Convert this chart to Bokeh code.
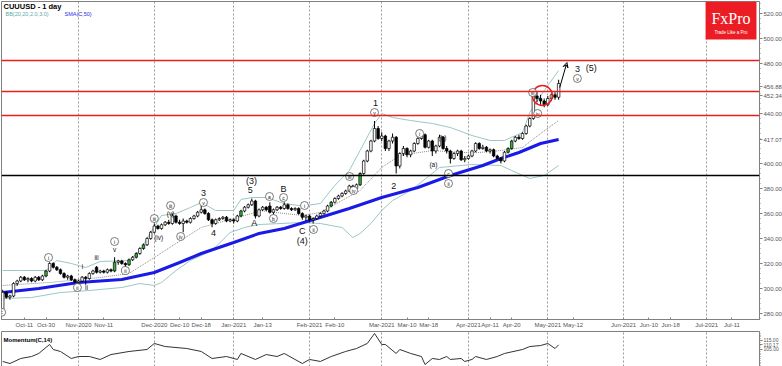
import numpy as np
from bokeh.plotting import figure
from bokeh.models import (ColumnDataSource, FixedTicker, Range1d, Label, Span,
                          Arrow, VeeHead, PrintfTickFormatter)
from bokeh.layouts import column
from bokeh.embed import file_html
from bokeh.resources import INLINE
from bokeh.core.properties import value

# ---------------- data ----------------
# bar index: 0 = 2020-11-02 ; first candle is bar -21
first_bar = -21
opens = [282, 297, 293, 294, 304, 306, 309, 307, 308, 306, 309, 307, 310, 314, 320, 317, 315, 312, 309, 310,
         307, 305, 306, 309, 308, 312, 317, 313, 314, 313, 315, 314, 321, 322, 320, 319, 323, 325, 328, 332,
         335, 340, 345, 350, 348, 351, 353, 352, 358, 353, 352, 354, 353, 356, 358, 361, 363, 360, 355, 352,
         355, 356, 357, 354, 355, 354, 358, 362, 365, 367, 370, 358, 363, 365, 366, 361, 363, 365, 364, 367,
         364, 363, 364, 360, 357, 358, 355, 356, 358, 360, 362, 366, 369, 372, 374, 376, 378, 382, 380, 383,
         392, 402, 410, 418, 428, 420, 422, 412, 418, 421, 398, 408, 412, 407, 410, 416, 420, 423, 413, 418,
         410, 414, 421, 412, 410, 404, 408, 410, 403, 404, 406, 410, 416, 412, 413, 410, 411, 406, 404, 402,
         409, 412, 418, 421, 420, 424, 430, 436, 454, 452, 450, 447, 452, 455, 453]
highs = [299, 298, 295, 305, 307, 310, 310, 309, 309, 310, 310, 311, 315, 321, 321, 318, 316, 313, 311, 311,
         308, 307, 310, 310, 313, 315, 318, 315, 315, 316, 316, 325, 323, 323, 321, 324, 326, 329, 333, 336,
         341, 346, 352, 351, 352, 354, 355, 360, 359, 355, 356, 355, 357, 359, 362, 366, 364, 361, 356, 356,
         357, 358, 358, 356, 356, 359, 363, 366, 368, 372, 371, 364, 366, 366, 369, 364, 366, 366, 369, 368,
         365, 365, 365, 361, 359, 359, 357, 359, 361, 363, 367, 370, 373, 375, 377, 379, 383, 383, 384, 393,
         403, 411, 419, 434, 430, 425, 423, 419, 424, 422, 409, 414, 413, 411, 417, 421, 427, 424, 419, 419,
         415, 423, 422, 414, 411, 409, 411, 411, 406, 407, 411, 417, 417, 415, 414, 412, 412, 407, 405, 410,
         413, 419, 422, 423, 425, 431, 437, 458, 458, 455, 452, 454, 456, 457, 467]
lows = [279, 292, 291, 293, 302, 305, 306, 305, 305, 305, 306, 306, 309, 313, 316, 314, 311, 308, 307, 306,
        304, 303, 305, 303, 307, 311, 312, 312, 312, 312, 313, 313, 319, 319, 316, 318, 322, 324, 327, 331,
        334, 339, 344, 347, 347, 350, 351, 351, 352, 351, 345, 352, 352, 355, 357, 360, 359, 354, 349, 351,
        354, 355, 353, 353, 352, 353, 357, 361, 364, 366, 356, 357, 362, 362, 360, 359, 362, 363, 363, 363,
        362, 362, 359, 355, 354, 353, 352, 355, 357, 359, 361, 365, 368, 371, 373, 375, 377, 377, 379, 382,
        391, 401, 409, 417, 419, 418, 410, 410, 416, 392, 396, 406, 405, 405, 409, 415, 419, 412, 412, 406,
        408, 413, 411, 408, 400, 403, 406, 402, 401, 403, 405, 409, 411, 411, 409, 408, 405, 403, 400, 401,
        408, 411, 417, 419, 419, 423, 429, 435, 449, 447, 445, 446, 450, 451, 451]
closes = [297, 293, 294, 304, 306, 309, 307, 308, 306, 309, 307, 310, 314, 320, 317, 315, 312, 309, 310, 307,
          305, 306, 309, 308, 312, 314, 313, 314, 313, 315, 314, 321, 322, 320, 319, 323, 325, 328, 332, 335,
          340, 345, 350, 348, 351, 353, 352, 358, 353, 352, 354, 353, 356, 358, 361, 363, 360, 355, 352, 355,
          356, 357, 354, 355, 354, 358, 362, 365, 367, 370, 358, 363, 365, 363, 361, 363, 365, 364, 367, 364,
          363, 364, 360, 357, 358, 355, 356, 358, 360, 362, 366, 369, 372, 374, 376, 378, 382, 380, 383, 392,
          402, 410, 418, 428, 420, 422, 412, 418, 421, 398, 408, 412, 407, 410, 416, 420, 423, 413, 418, 410,
          414, 421, 412, 410, 404, 408, 410, 403, 404, 406, 410, 416, 412, 413, 410, 411, 406, 404, 402, 409,
          412, 418, 421, 420, 424, 430, 436, 454, 452, 450, 447, 452, 455, 453, 464]
green_candles = [12, 31, 35, 37, 39, 66, 91, 99, 140, 141]   # candle numbers drawn green

# Bollinger band (20, 2) and SMA(50), read at candle numbers
bbu_n = [0, 5, 12, 15, 19, 23, 27, 35, 38, 41, 44, 48, 52, 55, 59, 64, 66, 69, 73, 78, 82, 84, 88, 92, 96, 99,
         103, 105, 108, 113, 119, 124, 130, 135, 139, 144, 146, 150, 154]
bbu_v = [314.4, 314.4, 314.4, 322.4, 320, 316.8, 321.6, 322.4, 330.4, 344.8, 358.4, 360, 364.8, 368.8, 362.4,
         362.4, 371.2, 372.8, 372.8, 368, 366.4, 366.4, 368, 382.4, 394.4, 410.4, 432, 440, 436.8, 434.4, 432,
         428.8, 422.4, 418.4, 418.4, 424.8, 440.8, 458.4, 474.4]
bbm_n = [0, 13, 27, 35, 42, 48, 55, 64, 69, 71, 83, 88, 94, 99, 105, 110, 119, 127, 132, 138, 144, 149, 154]
bbm_v = [302.4, 304.8, 308.8, 312, 324.8, 336, 348.8, 356, 360, 362.4, 358.4, 360.8, 370.4, 378.4, 396.8,
         406.4, 410.4, 408.8, 408.8, 410.4, 412.8, 424, 434.4]
bbl_n = [0, 8, 16, 24, 33, 38, 42, 44, 48, 52, 58, 63, 67, 71, 83, 88, 94, 97, 99, 102, 105, 108, 113, 119,
         121, 130, 138, 141, 146, 150, 154]
bbl_v = [292, 292.8, 296.8, 298.4, 300.8, 304, 302.4, 304.8, 314.4, 322.4, 330.4, 344.8, 348.8, 351.2, 352.8,
         352, 348.8, 340.8, 344, 352, 362.4, 370.4, 378.4, 392, 396.8, 399.2, 398.4, 394.4, 388, 390.4, 398.4]
sma_n = [0, 10, 21, 33, 42, 49, 55, 64, 71, 78, 87, 96, 105, 115, 124, 133, 138, 143, 149, 154]
sma_v = [296.8, 300, 304.8, 307.2, 312.8, 320.8, 328, 336.8, 344, 348, 356, 364, 372.8, 380.8, 390.4, 398.4,
         404, 408.8, 416, 419.2]

# Momentum(C,14)
mom_n = [0, 2, 5, 8, 10, 13, 14, 16, 19, 21, 24, 27, 30, 35, 40, 42, 45, 51, 55, 58, 62, 65, 66, 70, 73, 76,
         78, 83, 85, 88, 91, 95, 98, 101, 103, 105, 106, 109, 110, 113, 116, 117, 119, 121, 123, 124, 127, 128,
         130, 131, 134, 137, 139, 144, 146, 149, 151, 153, 154]
mom_v = [91.7, 89.4, 95, 97.2, 100.6, 110.6, 105, 102.8, 95, 97.2, 97.2, 93.9, 99.4, 102.8, 105, 111.7, 108.3,
         106.1, 102.8, 95, 97.2, 93.9, 100.6, 93.9, 99.4, 97.2, 100.6, 89.4, 93.9, 91.7, 97.2, 102.8, 106.1,
         111.7, 122.8, 110.6, 110.6, 100.6, 105, 100.6, 97.2, 88.3, 95, 93.9, 97.2, 93.9, 95, 91.7, 93.9, 97.2,
         93.9, 97.2, 100.6, 105, 108.3, 109.4, 111.7, 106.1, 110.17]

# axis ticks (bar index) and labels
tick_pos = [-15, -9, 0, 7, 21, 28, 34, 43, 51, 64, 71, 84, 91, 97, 108, 114, 120, 130, 137, 151, 158, 164, 174, 181]
tick_lab = ["Oct-11", "Oct-30", "Nov-2020", "Nov-11", "Dec-2020", "Dec-10", "Dec-18", "Jan-2021", "Jan-13",
            "Feb-2021", "Feb-10", "Mar-2021", "Mar-10", "Mar-18", "Apr-2021", "Apr-11", "Apr-20", "May-2021",
            "May-12", "Jun-2021", "Jun-10", "Jun-18", "Jul-2021", "Jul-11"]
month_pos = [0, 21, 43, 64, 84, 108, 130, 151, 174]
price_ticks = [280, 300, 320, 340, 360, 380, 400, 440, 480, 500, 520]   # 420/460 hidden by value boxes

red_levels = [482.4, 457.6, 438.4]
black_levels = [390.4]

# value boxes on the price axis (position, text)
box_vals = [461.6, 454.4, 419.2]
box_text = ["456.88", "452.34", "417.07"]
mom_ticks = [105, 110.17, 115]

# Elliott wave labels: candle number, price, text, kind (c=circled, b=big, s=small)
wave_n = [-0.3, 12.7, 20.7, 23.2, 22.1, 26, 31, 31, 34, 42, 43.2, 46.5, 46.5, 49.3, 55.6, 55.6, 58.4, 68.6,
          68.9, 69.7, 73.9, 75, 77.8, 77.8, 83.6, 83, 83, 86.1, 96.1, 97.2, 103, 103.3, 108.3, 115.5, 119.3,
          121.8, 123.5, 123.5, 146.8, 148.2, 159.2, 159.2, 163]
wave_p = [281, 324.8, 300.8, 300.8, 317.6, 324.8, 331.2, 337.6, 314.4, 356, 340.8, 366.4, 360, 341.6, 376.8,
          368.8, 344.8, 379.2, 386.4, 352.8, 373.6, 356, 380, 372.8, 366.4, 346.4, 338.4, 347.2, 389.6, 378.4,
          440.8, 448.8, 382.4, 424, 399.2, 420.8, 392, 384, 456.8, 440, 476, 468, 476.8]
wave_t = ["c", "i", "ii", "ii", "i", "iii", "v", "i", "ii", "iii", "(iv)", "iii", "(v)", "iv", "3", "v", "4",
          "5", "(3)", "A", "a", "b", "B", "c", "i", "C", "(4)", "ii", "iii", "iv", "v", "1", "2", "i", "(a)",
          "(b)", "c", "ii", "iii", "iv", "3", "v", "(5)"]
wave_k = ["c", "c", "c", "s", "s", "s", "s", "c", "c", "c", "s", "c", "s", "c", "b", "c", "b", "b", "b", "b",
          "c", "c", "b", "c", "c", "b", "b", "c", "c", "c", "c", "b", "b", "c", "s", "s", "c", "c", "c", "c",
          "b", "c", "b"]

# ---------------- figures ----------------
FONT = value("Liberation Sans")
o = np.array(opens, float); h = np.array(highs, float)
l = np.array(lows, float); c = np.array(closes, float)
xb = np.arange(len(opens)) + first_bar
fill = np.where(c >= o, "white", "black").astype(object)
for g in green_candles:
    fill[g] = "#36b336"

FW = 758
xr = Range1d(-21.33, 188.64)
p = figure(frame_width=FW, frame_height=318, x_range=xr, y_range=Range1d(275.2, 529.6),
           output_backend="svg", toolbar_location=None, y_axis_location="right",
           min_border_left=1, min_border_right=23, min_border_top=1, min_border_bottom=0,
           background_fill_color="white", border_fill_color="white")
p.outline_line_color = "#808080"
p.ygrid.grid_line_color = None
p.xgrid.ticker = FixedTicker(ticks=month_pos)
p.xgrid.grid_line_color = "#9a9a9a"
p.xgrid.grid_line_dash = "2 2"
p.xgrid.grid_line_width = 1

ya = p.yaxis[0]
ya.ticker = FixedTicker(ticks=sorted(price_ticks + box_vals), minor_ticks=list(range(276, 530, 4)))
ya.formatter = PrintfTickFormatter(format="%.2f")
ya.major_label_overrides = {v: t for v, t in zip(box_vals, box_text)}
ya.major_label_text_font_size = "6px"
ya.major_label_text_font = "Liberation Sans"
ya.major_label_text_color = "#555555"
ya.major_tick_out = 3; ya.major_tick_in = 0
ya.minor_tick_out = 1; ya.minor_tick_in = 0
ya.major_label_standoff = 1
ya.axis_line_color = "#808080"; ya.major_tick_line_color = "#808080"; ya.minor_tick_line_color = "#808080"

xa = p.xaxis[0]
xa.ticker = FixedTicker(ticks=tick_pos)
xa.major_label_overrides = {t: s for t, s in zip(tick_pos, tick_lab)}
xa.major_label_text_font_size = "6px"
xa.major_label_text_font = "Liberation Sans"
xa.major_label_text_color = "#555555"
xa.major_tick_out = 0; xa.major_tick_in = 2
xa.minor_tick_line_color = None
xa.major_label_standoff = 2
xa.axis_line_color = "#808080"; xa.major_tick_line_color = "#808080"

# horizontal levels
for lv in red_levels:
    p.add_layout(Span(location=lv, dimension="width", line_color="#e8201c", line_width=1.5))
for lv in black_levels:
    p.add_layout(Span(location=lv, dimension="width", line_color="black", line_width=1.5))

# bands and SMA
p.line(np.array(bbu_n) + first_bar, bbu_v, line_color="#9cc6c6", line_width=1)
p.line(np.array(bbl_n) + first_bar, bbl_v, line_color="#9cc6c6", line_width=1)
p.line(np.array(bbm_n) + first_bar, bbm_v, line_color="#8a8a8a", line_width=1, line_dash="1 1")
p.line(np.array(sma_n) + first_bar, sma_v, line_color="#1a1ae6", line_width=3)

# candles
src = ColumnDataSource(dict(x=xb, top=np.maximum(o, c), bottom=np.minimum(o, c), h=h, l=l, fill=fill))
p.segment(x0="x", y0="l", x1="x", y1="h", source=src, line_color="black", line_width=1)
p.vbar(x="x", width=0.7, top="top", bottom="bottom", source=src, fill_color="fill",
       line_color="black", line_width=0.7)

# highlighted circle around recent bars
p.scatter([149.5 + first_bar], [454.4], size=20, marker="circle", fill_color=None,
          line_color="#e8201c", line_width=1.5)

# projection arrow
p.add_layout(Arrow(end=VeeHead(size=5, line_color="black", line_width=1, fill_color=None),
                   x_start=154.3 + first_bar, y_start=460.8, x_end=156.3 + first_bar, y_end=480.8,
                   line_color="black", line_width=1))

# wave labels
wn = np.array(wave_n) + first_bar
for kind, size in (("c", "5px"), ("s", "6.5px"), ("b", "9px")):
    sel = [i for i, k in enumerate(wave_k) if k == kind]
    xs = [wn[i] for i in sel]; ys = [wave_p[i] for i in sel]; ts = [wave_t[i] for i in sel]
    if kind == "c":
        p.scatter(xs, ys, size=8, marker="circle", fill_color="white", line_color="#444444", line_width=0.7)
    p.text(xs, ys, text=ts, text_font=FONT, text_font_size=size, text_align="center",
           text_baseline="middle", text_color="#111111")

# FxPro logo
p.quad(left=[173.7], right=[187.8], top=[529.6], bottom=[499.2], fill_color="#ec1c24", line_color=None)
p.text([180.75], [516.0], text=["FxPro"], text_font=value("Liberation Serif"), text_font_size="16px",
       text_align="center", text_baseline="middle", text_color="white")
p.text([180.75], [504.8], text=["Trade Like a Pro"], text_font=FONT, text_font_size="4.5px",
       text_align="center", text_baseline="middle", text_color="white")

# header texts
p.add_layout(Label(x=2, y=313, x_units="screen", y_units="screen", text="CUUUSD - 1 day",
                   text_font="Liberation Sans", text_font_size="7.5px", text_font_style="bold",
                   text_color="black", text_baseline="middle"))
p.add_layout(Label(x=4, y=306, x_units="screen", y_units="screen", text="BB(20,20,2.0,3.0)",
                   text_font="Liberation Sans", text_font_size="5.5px", text_color="#5aa9a9",
                   text_baseline="middle"))
p.add_layout(Label(x=63, y=306, x_units="screen", y_units="screen", text="SMA(C,50)",
                   text_font="Liberation Sans", text_font_size="5.5px", text_color="#2a2ae0",
                   text_baseline="middle"))

# momentum panel
m = figure(frame_width=FW, frame_height=35, x_range=xr, y_range=Range1d(86.1, 125),
           output_backend="svg", toolbar_location=None, y_axis_location="right", x_axis_location=None,
           min_border_left=1, min_border_right=23, min_border_top=1, min_border_bottom=1,
           background_fill_color="white", border_fill_color="white")
m.outline_line_color = "#808080"
m.ygrid.grid_line_color = None
m.xgrid.ticker = FixedTicker(ticks=month_pos)
m.xgrid.grid_line_color = "#9a9a9a"
m.xgrid.grid_line_dash = "2 2"
my = m.yaxis[0]
my.ticker = FixedTicker(ticks=mom_ticks, minor_ticks=list(range(87, 125, 2)))
my.formatter = PrintfTickFormatter(format="%.2f")
my.major_label_text_font_size = "5px"
my.major_label_text_font = "Liberation Sans"
my.major_label_text_color = "#555555"
my.major_tick_out = 3; my.major_tick_in = 0
my.minor_tick_out = 1; my.minor_tick_in = 0
my.major_label_standoff = 1
my.axis_line_color = "#808080"; my.major_tick_line_color = "#808080"; my.minor_tick_line_color = "#808080"
m.line(np.array(mom_n) + first_bar, mom_v, line_color="#333333", line_width=1)
m.add_layout(Label(x=2, y=27, x_units="screen", y_units="screen", text="Momentum(C,14)",
                   text_font="Liberation Sans", text_font_size="6px", text_font_style="bold",
                   text_color="black", text_baseline="middle"))

layout = column(p, m, spacing=0)
open("out.html", "w").write(file_html(layout, INLINE))
